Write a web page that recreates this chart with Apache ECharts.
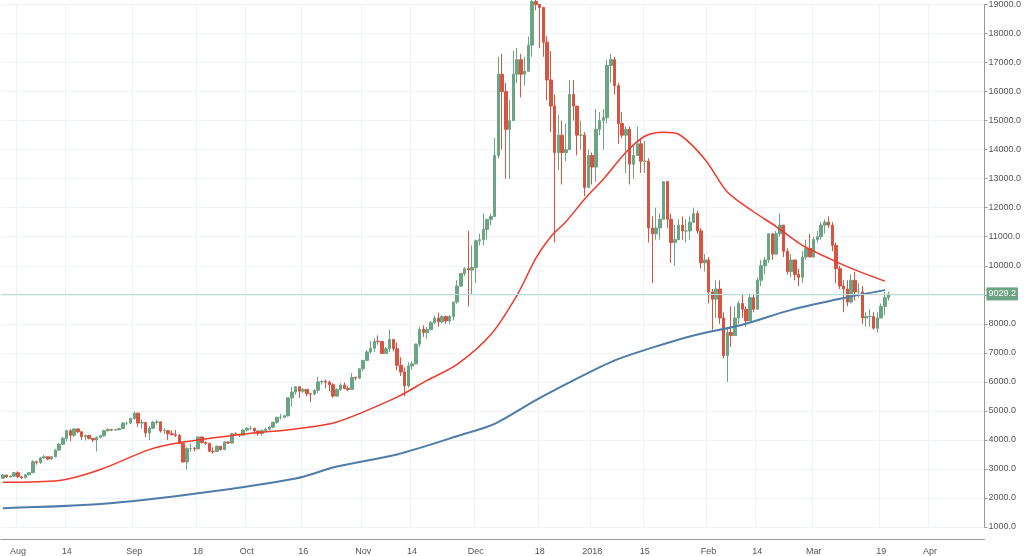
<!DOCTYPE html>
<html><head><meta charset="utf-8">
<script src="https://cdn.jsdelivr.net/npm/echarts@6/dist/echarts.min.js"></script>
<style>html,body{margin:0;padding:0;background:#fff}#c{width:1024px;height:556px}</style>
</head><body><div id="c"></div>
<script>
const startDate = '2017-07-28';
const firstOpen = 2680;
const closes = [
2790,2720,2750,2870,
2730,2700,2800,2870,3250,3220,3380,3420,3340,3420,3650,3850,4060,4320,4160,4380,4280,4110,4150,4050,4000,4090,4140,4320,4360,4340,4350,4390,4580,4580,4740,
4920,4580,4600,4240,4400,4610,4620,4310,4320,4210,4180,4160,3880,3240,3700,3700,3690,4100,3910,3880,3610,3600,3780,3670,3930,3890,4210,4190,4160,4340,
4400,4400,4310,4220,4320,4370,4440,4610,4780,4780,4830,5450,5650,5830,5680,5740,5590,5580,5710,6000,6010,5990,5900,5510,5740,5890,5770,5740,6150,6130,6450,
6740,7030,7160,7400,7390,6980,7140,7460,7140,6570,6340,5860,6550,6620,7300,7810,7700,7800,8040,8200,8070,8250,8100,8250,8750,9300,9730,9900,9850,9940,
10860,10900,11250,11600,11700,13800,16600,16000,14700,15000,16600,17100,16600,16700,17600,19100,19000,18900,17700,16400,15500,13900,14500,13900,14000,15900,15500,14500,14500,12700,13800,
13400,14700,15000,15100,16900,17100,16200,14900,14500,14700,13500,13800,14200,13600,13600,11300,11100,11300,11600,12900,11600,10800,10900,11400,11200,11200,11500,11800,11200,10100,10200,
9100,8850,9200,8200,6900,7700,7600,8200,8700,8500,8100,8900,8500,9500,10000,10200,11100,10400,11100,11400,10500,9800,10200,9700,9600,10300,10600,10300,
10900,11000,11400,11500,11400,10700,9900,9300,9200,8750,9500,9100,9100,8200,8250,8250,7850,8200,8600,8900,9030];
const highs = [
2820,2800,2780,2900,
2920,2760,2820,2890,3300,3280,3420,3480,3430,3450,3690,3900,4100,4350,4370,4400,4380,4300,4190,4150,4060,4120,4180,4350,4400,4380,4380,4400,4620,4620,4760,
4980,4950,4700,4600,4470,4650,4700,4640,4400,4350,4330,4350,4200,3900,3750,3870,3760,4120,4130,3950,3900,3750,3810,3780,3950,3950,4240,4260,4200,4360,
4440,4480,4420,4300,4360,4420,4480,4620,4800,4900,4870,5460,5830,5850,5850,5780,5760,5600,5740,6170,6060,6080,6050,5950,5780,5950,5980,5860,6300,6180,6470,
6760,7100,7400,7500,7600,7400,7200,7800,7450,7350,6850,6500,6680,6710,7320,7900,7950,7890,8100,8280,8380,8300,8280,8300,8750,9500,9750,9950,11200,10700,
10900,11100,11800,11600,11800,14400,17200,17300,16300,15700,17400,17500,17300,17200,17900,19200,19700,19000,18900,17900,17400,15900,15200,15000,14900,16400,16400,15500,15000,14600,14000,
13900,15400,15300,15400,17100,17300,17200,16300,15300,14800,14800,14200,14800,14400,14300,13700,11700,12000,11800,12900,12900,11800,11400,11600,11700,11600,11700,12000,11900,11300,10400,
10300,9200,9500,9500,8400,7900,8600,8600,8800,9000,8600,9000,9000,9600,10200,10300,11100,11100,11200,11800,11400,10600,10400,10200,9900,10500,10900,11100,
11000,11200,11500,11600,11700,11500,10800,10000,9500,9500,9700,9800,9400,9300,8400,8500,8400,8400,8700,9100,9100];
const lows = [
2660,2690,2700,2720,
2700,2650,2690,2780,2860,3150,3180,3350,3300,3320,3400,3620,3840,3950,3950,4100,4230,4000,3980,4020,3920,3600,4050,4110,4290,4300,4320,4330,4380,4510,4540,
4700,4450,4400,4100,4000,4380,4520,4250,4200,4000,4150,4100,3850,3220,2980,3600,3600,3680,3870,3830,3580,3520,3590,3630,3680,3860,3890,4150,4100,4160,
4290,4350,4200,4140,4150,4290,4330,4400,4560,4710,4750,4800,5150,5560,5450,5620,5500,5300,5530,5610,5910,5780,5680,5450,5500,5680,5740,5680,5740,6050,6100,
6370,6720,6970,7030,7280,6960,6980,7030,7050,6400,6200,5500,5800,6420,6610,7200,7550,7480,7760,7980,7900,8020,8000,8000,8120,8690,9280,9650,8600,9000,
9400,10700,10700,10900,11400,11800,13700,14000,13000,13000,15000,16300,15800,16200,16800,17200,18800,17500,17200,15700,14600,10800,13300,12800,13600,14000,15000,13800,14000,12400,12700,
12800,12900,14500,14000,14900,16300,15900,14200,14400,13200,12800,13000,13800,13200,13200,10800,9400,10900,10900,11600,11300,10100,10000,10900,10900,10800,10900,11500,11100,9900,9800,
8700,7800,8200,8000,6800,6000,7200,7600,8000,8200,7900,8100,8400,8500,9300,9700,10100,10200,10400,11000,10300,9700,9600,9500,9300,9400,10200,10300,
10300,10800,10900,11100,11300,10500,9400,9200,8400,8600,8700,8800,8900,8000,7900,7900,7800,7700,8200,8300,8800];
// moving averages: [dayIndex, value]
const ma50 = [[0,2540],[15,2600],[26,2980],[39,3665],[47,3900],[65,4210],[78,4380],[89,4620],[105,5475],[113,6050],[121,6600],[130,7630],[137,8990],[142,10260],[146,11010],[150,11520],[155,12300],[160,12990],[166,13910],[171,14460],[176,14600],[180,14530],[187,13670],[193,12540],[200,11860],[206,11350],[213,10700],[220,10260],[226,9910],[235,9470]];
const ma200 = [[0,1650],[26,1790],[52,2160],[78,2670],[89,3085],[105,3500],[123,4210],[131,4550],[142,5370],[152,6050],[163,6740],[173,7180],[184,7600],[197,7970],[210,8480],[224,8890],[235,9160]];
const lastPrice = 9029.2;
const tickLabels = {'2017-08-01':'Aug','2017-08-14':'14','2017-09-01':'Sep','2017-09-18':'18','2017-10-01':'Oct','2017-10-16':'16','2017-11-01':'Nov','2017-11-14':'14','2017-12-01':'Dec','2017-12-18':'18','2018-01-01':'2018','2018-01-15':'15','2018-02-01':'Feb','2018-02-14':'14','2018-03-01':'Mar','2018-03-19':'19','2018-04-01':'Apr'};
const totalDays = 262;

const cats = [];
const d0 = new Date(startDate + 'T00:00:00Z');
for (let i = 0; i < totalDays; i++) {
  const d = new Date(d0.getTime() + i * 86400000);
  cats.push(d.toISOString().slice(0, 10));
}
const ohlc = closes.map((c, i) => [i === 0 ? firstOpen : closes[i - 1], c, lows[i], highs[i]]);

const chart = echarts.init(document.getElementById('c'));
chart.setOption({
  animation: false,
  grid: {left: 1, right: 31, top: 4, bottom: 25},
  xAxis: {
    type: 'category', data: cats, offset: 12,
    axisLine: {lineStyle: {color: '#999'}},
    axisTick: {interval: (i, v) => v in tickLabels, length: 3, lineStyle: {color: '#999'}},
    axisLabel: {interval: (i, v) => v in tickLabels, formatter: v => tickLabels[v] || '',
      color: '#555', fontSize: 9, fontFamily: 'Liberation Sans'},
    splitLine: {show: true, interval: (i, v) => v in tickLabels, lineStyle: {color: '#eef3f6'}}
  },
  yAxis: {
    type: 'value', position: 'right', min: 1000, max: 19000, interval: 1000,
    axisLine: {show: true, lineStyle: {color: '#999'}},
    axisTick: {show: true, length: 3, lineStyle: {color: '#999'}},
    axisLabel: {formatter: v => v.toFixed(1), color: '#555', fontSize: 9, fontFamily: 'Liberation Sans', margin: 4},
    splitLine: {lineStyle: {color: '#eef3f6'}}
  },
  series: [
    {type: 'candlestick', data: ohlc, barWidth: 3, clip: false,
      itemStyle: {color: '#6ba583', color0: '#d75442', borderColor: '#6ba583', borderColor0: '#d75442', borderWidth: 1},
      markLine: {symbol: 'none', silent: true, data: [{yAxis: lastPrice}],
        lineStyle: {color: '#b8ddd6', type: 'solid', width: 1},
        label: {position: 'end', formatter: lastPrice.toFixed(1), color: '#fff', backgroundColor: '#6ba583',
          padding: [2, 2], fontSize: 9, fontFamily: 'Liberation Sans', distance: 2}}
    },
    {type: 'line', data: ma200, smooth: 0.3, showSymbol: false, lineStyle: {color: '#4f7ca8', width: 2}, z: 3},
    {type: 'line', data: ma50, smooth: 0.3, showSymbol: false, lineStyle: {color: '#f0392b', width: 1.5}, z: 3}
  ]
});
</script></body></html>
